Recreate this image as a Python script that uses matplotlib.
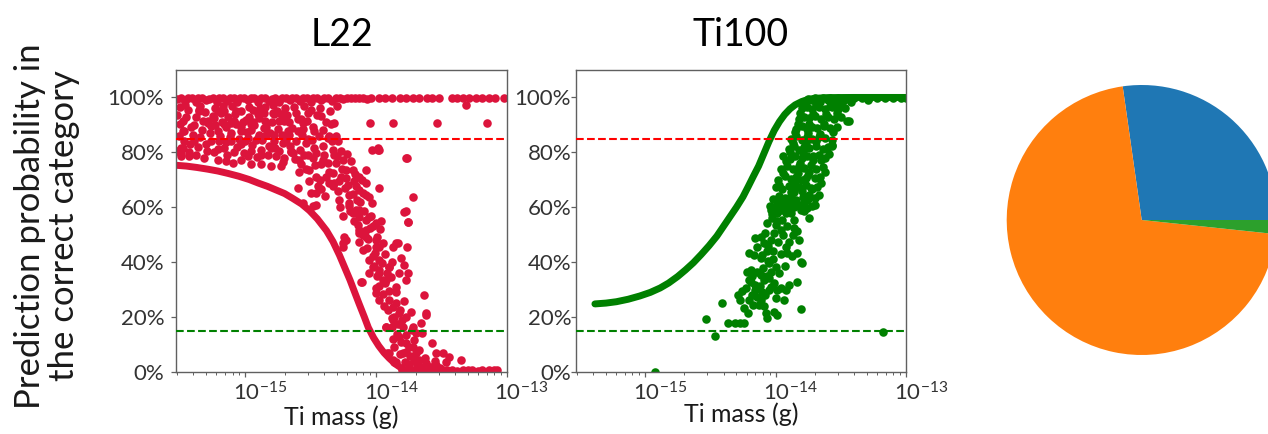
import numpy as np
import matplotlib
matplotlib.use("Agg")
import matplotlib.pyplot as plt
from matplotlib.ticker import PercentFormatter
from matplotlib.transforms import ScaledTranslation

plt.rcParams['font.family'] = ['Lato', 'DejaVu Sans']
plt.rcParams['mathtext.default'] = 'regular'
plt.rcParams['axes.unicode_minus'] = False

# ---------------- data (log10 of Ti mass in g, probability in %) ----------------
titles = ["L22", "Ti100"]
xlabel = "Ti mass (g)"
ylabel = "Prediction probability in\nthe correct category"
red_threshold = 85
green_threshold = 15
x_ticks = [1e-15, 1e-14, 1e-13]

# L22: dense trend band
l22_curve = [(-15.53, 75.3), (-15.45, 75.0), (-15.37, 74.5), (-15.29, 73.9), (-15.21, 73.2),
             (-15.13, 72.3), (-15.05, 71.3), (-14.97, 70.1), (-14.90, 68.8), (-14.83, 67.6),
             (-14.77, 66.4), (-14.70, 65.0), (-14.64, 63.3), (-14.57, 61.2), (-14.51, 58.8),
             (-14.45, 55.8), (-14.38, 51.5), (-14.33, 47.5), (-14.28, 42.5), (-14.24, 38.0),
             (-14.20, 33.5), (-14.16, 28.5), (-14.13, 24.8), (-14.09, 20.0), (-14.06, 16.2),
             (-14.02, 12.5), (-13.98, 9.5), (-13.94, 7.0), (-13.90, 5.0), (-13.85, 2.8),
             (-13.80, 1.2), (-13.76, 0.5)]

# L22: points near 100 %
l22_top = [(-15.52, 99.6), (-15.49, 99.9), (-15.46, 98.8), (-15.44, 99.7), (-15.41, 99.9), (-15.38, 98.5),
           (-15.36, 99.8), (-15.33, 99.9), (-15.30, 98.9), (-15.28, 99.6), (-15.25, 99.9), (-15.22, 98.2),
           (-15.20, 99.8), (-15.17, 99.9), (-15.14, 98.7), (-15.12, 99.7), (-15.09, 99.9), (-15.06, 98.4),
           (-15.04, 99.8), (-15.01, 99.9), (-14.98, 98.9), (-14.96, 99.7), (-14.93, 99.9), (-14.90, 98.3),
           (-14.88, 99.8), (-14.85, 99.9), (-14.82, 98.8), (-14.80, 99.6), (-14.77, 99.9), (-14.74, 98.5),
           (-14.72, 99.8), (-14.69, 99.9), (-14.66, 98.9), (-14.64, 99.7), (-14.61, 99.9), (-14.58, 98.6),
           (-14.56, 99.8), (-14.53, 99.9), (-14.50, 98.4), (-14.48, 99.7), (-14.45, 99.9), (-14.42, 99.0),
           (-14.40, 99.8), (-14.37, 99.9), (-14.34, 98.7), (-14.31, 99.8), (-14.28, 99.9), (-14.25, 99.5),
           (-14.22, 99.9), (-14.19, 99.7), (-14.16, 99.9), (-14.13, 99.8), (-14.10, 99.9), (-14.07, 99.6),
           (-14.04, 99.9), (-13.98, 99.9), (-13.93, 99.9), (-13.88, 99.9), (-13.82, 99.9), (-13.77, 99.9),
           (-13.72, 99.9), (-13.67, 99.9), (-13.61, 99.9), (-13.57, 99.9), (-13.52, 99.9), (-13.42, 99.9),
           (-13.38, 99.9), (-13.34, 99.9), (-13.29, 99.9), (-13.24, 99.9), (-13.19, 99.9), (-13.14, 99.9),
           (-13.09, 99.9), (-13.02, 99.9), (-13.31, 97.3),
           (-15.50, 96.5), (-15.35, 96.8), (-15.23, 96.2), (-15.10, 96.9), (-14.97, 96.4), (-14.85, 96.7),
           (-14.70, 96.3), (-14.55, 96.8), (-14.43, 96.1), (-14.30, 96.9)]

# L22: scattered cloud
l22_cloud = [(-15.478, 87.6), (-15.414, 89.4), (-15.491, 81.5), (-15.351, 95.5), (-15.287, 91.3),
             (-15.236, 92.5), (-15.185, 94.3), (-15.147, 89.4), (-15.109, 90.7), (-15.071, 94.9),
             (-15.032, 89.4), (-14.994, 91.9), (-14.943, 95.5), (-14.893, 92.5), (-14.842, 89.4),
             (-14.791, 94.3), (-14.740, 91.3), (-14.676, 87.6), (-14.613, 94.3), (-14.562, 90.7),
             (-14.485, 89.4), (-14.409, 88.2), (-14.358, 85.8), (-14.893, 86.4), (-14.816, 82.2),
             (-14.765, 78.5), (-14.714, 83.4), (-14.638, 79.7), (-14.587, 77.3), (-14.536, 83.4),
             (-14.511, 73.6), (-14.460, 79.7), (-14.409, 77.3), (-14.333, 80.9), (-14.307, 76.1),
             (-14.256, 77.3), (-14.231, 73.6), (-14.269, 71.2), (-14.180, 73.6), (-14.129, 71.2),
             (-14.078, 73.6), (-13.989, 81.5), (-13.976, 80.9), (-13.768, 77.9), (-14.154, 67.6),
             (-14.104, 65.1), (-14.384, 71.2), (-14.333, 67.6), (-14.460, 65.1), (-14.485, 60.3),
             (-14.562, 61.5), (-14.282, 62.7), (-14.205, 61.5), (-14.129, 59.1), (-14.053, 56.6),
             (-13.722, 63.9), (-13.760, 54.8), (-13.773, 58.5), (-14.180, 57.8), (-14.078, 51.8),
             (-14.027, 53.0), (-14.129, 50.6), (-14.002, 48.1), (-13.951, 46.9), (-14.104, 44.5),
             (-14.027, 42.1), (-13.976, 40.8), (-14.053, 40.8), (-14.256, 46.9), (-14.231, 48.1),
             (-13.875, 45.7), (-13.836, 46.9), (-14.053, 36.0), (-13.976, 37.2), (-13.900, 38.4),
             (-13.824, 36.0), (-13.785, 39.0), (-13.760, 36.0), (-13.849, 31.1), (-13.773, 33.5),
             (-14.116, 32.9), (-13.925, 33.5), (-14.002, 28.7), (-13.976, 26.2), (-13.900, 26.2),
             (-13.875, 23.8), (-13.824, 21.4), (-13.773, 20.2), (-13.633, 28.1), (-13.620, 20.8),
             (-13.722, 16.5), (-13.697, 14.1), (-13.798, 16.5), (-13.875, 19.0), (-13.925, 16.5),
             (-13.900, 6.8), (-13.824, 12.9), (-13.773, 10.5), (-13.722, 9.2), (-13.646, 14.1),
             (-13.570, 10.5), (-13.493, 6.8), (-13.442, 5.6), (-13.798, 6.8), (-13.722, 5.6),
             (-13.671, 4.4), (-13.620, 3.2), (-13.570, 1.9), (-13.493, 0.7), (-13.417, 0.7),
             (-13.340, 0.7), (-13.264, 0.7), (-13.188, 0.7), (-13.099, 0.7), (-13.849, 3.8),
             (-13.747, 1.9), (-13.646, 1.9), (-13.544, 2.5), (-13.468, 3.8), (-13.353, 4.4),
             (-13.875, 4.4), (-14.109, 32.7), (-13.621, 21.4), (-13.926, 16.5), (-13.876, 16.5),
             (-13.723, 15.3), (-13.659, 17.7), (-13.811, 11.0), (-13.748, 9.2), (-13.773, 7.4),
             (-13.697, 6.8), (-13.544, 6.8), (-13.914, 6.8), (-13.863, 3.8), (-13.80, 0.8),
             (-13.75, 0.6), (-13.70, 0.9), (-13.65, 0.5), (-13.60, 0.8), (-13.55, 0.6), (-13.46, 0.8),
             (-13.38, 0.5), (-13.30, 0.8), (-13.22, 0.5), (-13.14, 0.6), (-13.08, 0.7),
             (-14.00, 30.5), (-13.95, 33.5), (-13.93, 32.3), (-13.85, 25.0), (-13.82, 22.6),
             (-13.86, 20.2), (-13.786, 58.4), (-13.756, 54.8), (-13.850, 46.9), (-13.761, 45.7),
             (-14.244, 49.3), (-14.257, 45.7), (-13.977, 67.0), (-14.053, 63.9), (-14.498, 65.1),
             (-14.448, 67.6), (-14.601, 67.0), (-14.460, 60.9), (-14.206, 60.3), (-14.155, 59.1),
             (-14.130, 56.6), (-14.079, 55.4), (-14.002, 54.2), (-14.130, 51.8), (-14.079, 49.3),
             (-13.990, 49.3), (-13.977, 45.7), (-14.028, 38.4), (-13.952, 39.6), (-13.901, 38.4),
             (-13.977, 36.0), (-13.876, 40.2), (-14.359, 68.8), (-14.282, 69.4), (-14.219, 68.2),
             (-14.168, 69.4), (-14.130, 66.4), (-14.079, 68.8), (-15.351, 95.0), (-15.288, 90.8),
             (-15.466, 87.7), (-15.479, 81.7), (-15.491, 78.6), (-15.427, 78.6), (-15.376, 79.2),
             (-15.313, 78.0), (-15.211, 77.4), (-15.147, 76.8), (-15.097, 76.2), (-15.033, 77.4),
             (-14.957, 75.6), (-14.880, 75.6), (-14.804, 75.0), (-14.727, 75.0), (-14.779, 93.8),
             (-14.702, 91.4), (-14.575, 92.0), (-14.524, 94.4), (-14.422, 93.2), (-14.346, 90.2),
             (-14.473, 87.7), (-14.601, 87.7), (-14.664, 86.5), (-14.779, 86.5), (-14.855, 89.0),
             (-14.906, 85.3), (-14.982, 85.3), (-15.033, 82.9), (-15.109, 84.1), (-15.160, 81.7),
             (-15.211, 87.7), (-15.262, 84.1), (-15.389, 84.1), (-15.084, 91.4), (-14.957, 90.2),
             (-14.906, 93.8), (-15.160, 90.2), (-15.033, 87.7), (-15.211, 95.0), (-14.804, 81.7),
             (-14.651, 80.5), (-14.473, 81.7), (-14.372, 85.3), (-14.295, 84.1), (-14.321, 79.2),
             (-14.524, 79.2), (-14.422, 75.6), (-14.575, 75.6), (-14.702, 78.0), (-14.880, 79.2),
             (-14.957, 80.5), (-14.321, 90.8), (-14.048, 90.8), (-13.870, 90.8), (-13.537, 90.8),
             (-13.150, 90.8), (-13.769, 78.0), (-14.031, 81.0), (-13.985, 81.0),
             (-15.52, 93.5), (-15.50, 90.2), (-15.47, 84.0), (-15.45, 92.8), (-15.43, 80.3),
             (-15.40, 86.5), (-15.38, 93.0), (-15.36, 82.0), (-15.33, 88.0), (-15.31, 94.8),
             (-15.29, 80.5), (-15.27, 86.9), (-15.25, 93.2), (-15.23, 90.0), (-15.21, 81.2),
             (-15.19, 86.0), (-15.17, 97.0), (-15.15, 83.6), (-15.13, 93.0), (-15.11, 87.2),
             (-15.09, 80.2), (-15.07, 90.5), (-15.05, 85.0), (-15.03, 95.2), (-15.01, 79.8),
             (-14.99, 87.5), (-14.97, 93.0), (-14.95, 82.6), (-14.93, 89.8), (-14.91, 78.3),
             (-14.89, 96.0), (-14.87, 84.5), (-14.85, 91.5), (-14.83, 79.0), (-14.81, 87.0),
             (-14.79, 97.1), (-14.77, 81.7), (-14.75, 88.5), (-14.73, 94.0), (-14.71, 76.5),
             (-14.69, 84.6), (-14.67, 91.2), (-14.65, 80.0), (-14.63, 96.5), (-14.61, 84.0),
             (-14.59, 73.0), (-14.57, 86.3), (-14.55, 79.0), (-14.53, 91.5), (-14.51, 69.5),
             (-14.49, 84.5), (-14.47, 75.5), (-14.45, 93.5), (-14.43, 70.0), (-14.41, 82.5),
             (-14.39, 64.0), (-14.37, 76.0), (-14.35, 95.0), (-14.33, 72.5), (-14.31, 86.0),
             (-14.29, 66.0), (-14.27, 80.5), (-14.25, 57.0), (-14.23, 70.5), (-14.21, 64.5),
             (-14.19, 77.0), (-14.17, 55.0), (-14.15, 62.5), (-14.13, 47.5), (-14.11, 70.0),
             (-14.09, 58.5), (-14.07, 45.0), (-14.05, 52.5), (-14.03, 61.5), (-14.01, 43.5),
             (-13.99, 35.0), (-13.97, 52.0), (-13.95, 28.5), (-13.93, 43.0), (-13.91, 22.5),
             (-13.89, 34.5), (-13.87, 12.0), (-13.85, 29.0), (-13.83, 17.5), (-13.81, 41.5),
             (-13.79, 26.0), (-13.77, 13.5), (-13.75, 3.0), (-13.73, 22.0), (-13.71, 11.5),
             (-13.69, 2.5), (-13.67, 8.0), (-13.63, 5.0), (-13.59, 2.0), (-13.55, 4.0),
             (-13.51, 1.5), (-15.52, 80.5), (-15.49, 79.5), (-15.46, 97.2),
             (-15.51, 86.0), (-15.48, 91.5), (-15.44, 95.5), (-15.42, 83.0), (-15.39, 90.0),
             (-15.35, 85.5), (-15.32, 91.5), (-15.30, 83.0), (-15.26, 89.5), (-15.24, 80.0),
             (-15.20, 84.0), (-15.18, 91.0), (-15.16, 95.0), (-15.14, 79.0), (-15.12, 85.5),
             (-15.08, 94.0), (-15.06, 82.0), (-15.02, 91.0), (-15.00, 84.0), (-14.98, 78.5),
             (-14.96, 88.0), (-14.94, 91.0), (-14.92, 84.5), (-14.88, 81.0), (-14.86, 94.5),
             (-14.84, 86.5), (-14.80, 91.0), (-14.78, 84.0), (-14.76, 95.0), (-14.74, 80.5),
             (-14.72, 86.5), (-14.68, 93.5), (-14.66, 82.5), (-14.64, 89.0), (-14.62, 77.5),
             (-14.60, 92.0), (-14.58, 81.0), (-14.56, 88.5), (-14.54, 74.0), (-14.52, 85.0),
             (-14.50, 95.5), (-14.48, 78.0), (-14.46, 71.0), (-14.44, 86.0), (-14.42, 66.5),
             (-14.40, 79.0), (-14.38, 91.0), (-14.36, 73.0), (-14.34, 84.0), (-14.32, 69.0),
             (-14.30, 78.5), (-14.28, 60.0), (-14.26, 74.0), (-14.24, 67.0), (-14.22, 79.5),
             (-14.20, 58.5), (-14.18, 65.0), (-14.16, 72.0), (-14.14, 53.5), (-14.12, 62.0),
             (-14.10, 50.0), (-14.08, 64.5), (-14.06, 48.5), (-14.04, 57.0), (-14.02, 38.5),
             (-14.00, 45.5), (-13.98, 31.5), (-13.96, 55.0), (-13.94, 24.0), (-13.92, 36.0),
             (-13.90, 29.5), (-13.88, 19.5), (-13.86, 9.0), (-13.84, 14.0), (-13.82, 6.5),
             (-13.80, 19.0), (-13.78, 3.5), (-13.74, 6.0), (-13.70, 4.0)]

# Ti100: dense trend band
ti_curve = [(-15.385, 24.8), (-15.30, 25.1), (-15.22, 25.6), (-15.13, 26.5), (-15.04, 27.7),
            (-14.96, 29.0), (-14.885, 30.6), (-14.82, 32.4), (-14.75, 34.8), (-14.69, 37.2),
            (-14.63, 39.8), (-14.57, 42.8), (-14.51, 46.0), (-14.45, 49.5), (-14.40, 53.0),
            (-14.35, 56.5), (-14.30, 60.0), (-14.25, 63.8), (-14.21, 67.5), (-14.17, 71.3),
            (-14.13, 75.0), (-14.09, 79.5), (-14.05, 84.0), (-14.01, 88.0), (-13.97, 91.2),
            (-13.93, 93.8), (-13.89, 95.8), (-13.85, 97.3), (-13.80, 98.5), (-13.75, 99.3),
            (-13.70, 99.7), (-13.60, 99.95), (-13.40, 100.0), (-12.99, 100.0)]

# Ti100: scattered cloud
ti_cloud = [(-14.923, 0.1), (-13.180, 14.7), (-14.467, 13.1), (-14.531, 19.3), (-14.410, 25.3),
            (-14.364, 18.0), (-14.308, 18.0), (-14.269, 18.0), (-14.244, 18.0), (-14.290, 28.1),
            (-14.269, 26.2), (-14.244, 23.2), (-14.213, 21.4), (-14.205, 26.2), (-14.192, 32.9),
            (-14.179, 28.1), (-14.218, 36.6), (-14.205, 33.5), (-14.179, 34.8), (-14.154, 31.7),
            (-14.141, 27.5), (-14.115, 26.2), (-14.103, 29.3), (-14.090, 33.5), (-14.051, 34.1),
            (-14.038, 31.1), (-14.013, 32.3), (-13.987, 29.9), (-13.962, 30.5), (-13.923, 29.9),
            (-13.897, 31.7), (-13.936, 26.2), (-14.064, 19.6), (-14.077, 21.4), (-14.013, 22.0),
            (-13.987, 20.8), (-13.833, 32.9), (-13.808, 22.8), (-14.128, 24.4), (-14.192, 37.2),
            (-14.141, 36.6), (-14.115, 35.4), (-14.064, 34.8), (-14.038, 36.6), (-14.205, 43.3),
            (-14.167, 42.7), (-14.115, 41.4), (-14.141, 45.7), (-14.090, 46.9), (-14.064, 43.9),
            (-14.051, 39.6), (-14.000, 38.4), (-14.154, 48.7), (-14.115, 49.3), (-14.038, 48.1),
            (-14.013, 50.6), (-13.962, 51.8), (-13.923, 45.7), (-13.910, 43.3), (-13.872, 42.1),
            (-13.833, 43.3), (-13.808, 40.2), (-13.795, 39.6), (-13.821, 48.1), (-13.833, 51.2),
            (-14.064, 54.2), (-14.026, 56.0), (-13.987, 57.8), (-13.962, 59.1), (-13.923, 60.3),
            (-13.897, 61.5), (-13.859, 62.1), (-14.038, 59.1), (-13.987, 61.5), (-13.885, 57.8),
            (-13.859, 55.4), (-13.808, 59.1), (-13.782, 61.5), (-13.756, 62.7), (-14.000, 53.6),
            (-13.949, 55.4), (-13.910, 53.0), (-13.859, 52.4), (-14.103, 42.7),
            (-14.04, 60.5), (-14.00, 59.2), (-13.95, 60.8), (-13.91, 59.5), (-13.86, 60.2),
            (-13.81, 61.0), (-13.76, 59.6), (-13.72, 60.4),
            (-14.02, 63.0), (-13.97, 64.2), (-13.93, 63.5), (-13.88, 64.0), (-13.84, 62.8),
            (-13.79, 63.9), (-13.74, 64.5), (-13.70, 63.2),
            (-14.00, 67.5), (-13.95, 66.5), (-13.90, 67.8), (-13.86, 66.9), (-13.82, 67.3),
            (-13.77, 68.0), (-13.72, 66.6), (-13.68, 67.4),
            (-13.98, 70.0), (-13.93, 71.5), (-13.88, 70.4), (-13.84, 71.2), (-13.80, 70.1),
            (-13.75, 71.8), (-13.70, 70.5), (-13.66, 71.0),
            (-13.96, 74.0), (-13.91, 75.0), (-13.87, 73.8), (-13.82, 74.9), (-13.78, 74.2),
            (-13.73, 75.3), (-13.69, 73.9), (-13.64, 74.6),
            (-13.94, 78.5), (-13.89, 77.6), (-13.85, 78.8), (-13.80, 77.9), (-13.76, 78.6),
            (-13.71, 77.4), (-13.67, 78.9), (-13.62, 77.8),
            (-13.90, 81.2), (-13.86, 82.3), (-13.82, 81.0), (-13.78, 82.0), (-13.74, 81.5),
            (-13.69, 82.4), (-13.64, 81.1), (-13.60, 82.0),
            (-13.88, 85.0), (-13.84, 85.8), (-13.80, 84.6), (-13.76, 85.5), (-13.72, 84.9),
            (-13.67, 85.7), (-13.62, 85.1), (-13.57, 84.4),
            (-13.84, 88.6), (-13.80, 89.5), (-13.76, 88.4), (-13.72, 89.2), (-13.68, 88.8),
            (-13.63, 89.6), (-13.58, 88.7), (-13.53, 89.3),
            (-13.82, 92.2), (-13.78, 93.0), (-13.74, 92.4), (-13.70, 93.1), (-13.65, 92.3),
            (-13.60, 92.9), (-13.55, 92.0), (-13.50, 92.8),
            (-13.80, 96.0), (-13.76, 96.6), (-13.72, 95.8), (-13.67, 96.4), (-13.62, 95.9),
            (-13.57, 96.5), (-13.52, 95.7), (-13.47, 96.2),
            (-13.76, 98.6), (-13.72, 99.0), (-13.66, 98.4), (-13.60, 98.9), (-13.54, 98.5),
            (-13.48, 98.8), (-13.42, 98.3),
            (-13.70, 99.8), (-13.64, 99.9), (-13.58, 99.7), (-13.52, 99.9), (-13.46, 99.6),
            (-13.40, 99.8), (-13.34, 99.9), (-13.28, 99.7), (-13.22, 99.9), (-13.16, 99.8),
            (-13.10, 99.9), (-13.04, 99.7), (-13.00, 99.9),
            (-13.436, 91.4), (-13.564, 82.3), (-13.449, 91.3), (-13.564, 82.8), (-13.654, 77.3),
            (-13.744, 63.3), (-13.731, 67.0), (-13.782, 58.5), (-13.295, 99.2),
            (-14.03, 57.5), (-13.99, 55.0), (-13.96, 62.5), (-13.92, 58.0), (-13.88, 65.5),
            (-13.85, 69.0), (-13.83, 72.5), (-13.81, 76.0), (-13.79, 80.0), (-13.77, 83.5),
            (-13.75, 87.0), (-13.74, 90.5), (-13.71, 94.0), (-13.69, 97.5), (-13.97, 68.0),
            (-13.94, 72.5), (-13.92, 77.0), (-13.89, 80.0), (-13.87, 83.5), (-13.85, 87.5),
            (-13.83, 90.5), (-13.81, 94.5), (-13.78, 97.0), (-13.75, 99.5), (-13.90, 62.0),
            (-13.86, 65.5), (-13.80, 66.0), (-13.77, 70.5), (-13.74, 73.0), (-13.71, 78.5),
            (-13.69, 84.0), (-13.66, 86.8), (-13.63, 90.5), (-13.61, 94.0), (-13.58, 97.0),
            (-13.55, 98.0), (-13.74, 56.0), (-13.70, 61.0), (-13.67, 64.5), (-13.65, 69.0),
            (-13.62, 73.0), (-13.59, 79.5), (-13.56, 87.5), (-13.53, 94.5), (-13.50, 97.0),
            (-14.08, 50.5), (-14.06, 46.0), (-14.02, 44.0), (-13.98, 47.5), (-13.94, 50.0),
            (-13.90, 47.5), (-13.87, 50.0), (-14.10, 38.0), (-14.06, 40.5), (-14.02, 41.0),
            (-13.96, 43.0), (-13.93, 38.5), (-14.16, 30.0), (-14.12, 31.5), (-14.08, 28.0),
            (-14.05, 30.0), (-14.00, 27.0), (-13.97, 36.0), (-14.23, 30.5), (-14.17, 24.5),
            (-14.26, 29.5), (-14.09, 24.0)]

# pie shares (%)
pie_values = [27.25, 71.08, 1.67]
pie_colors = ['#1f77b4', '#ff7f0e', '#2ca02c']

# ---------------- figure ----------------
W, H = 1268, 434
fig = plt.figure(figsize=(W / 100, H / 100), dpi=100)

def px_rect(x0, y0, x1, y1):
    return [x0 / W, 1 - y1 / H, (x1 - x0) / W, (y1 - y0) / H]

ax1 = fig.add_axes(px_rect(176, 70, 507, 372))
ax2 = fig.add_axes(px_rect(576, 70, 906, 372))
axp = fig.add_axes(px_rect(1006.7, 85, 1276.7, 355))

def to_xy(pairs):
    arr = np.array(pairs, dtype=float)
    return 10 ** arr[:, 0], arr[:, 1] / 100.0

tick_color = '#333333'
spine_color = '#606060'

def style(ax, ypad):
    ax.set_xscale('log')
    ax.set_xlim(10 ** -15.53, 1e-13)
    ax.set_ylim(0, 1.10)
    ax.set_yticks([0, 0.2, 0.4, 0.6, 0.8, 1.0])
    ax.yaxis.set_major_formatter(PercentFormatter(1.0, decimals=0))
    ax.set_xticks(x_ticks)
    for s in ax.spines.values():
        s.set_color(spine_color)
        s.set_linewidth(1.0)
    ax.tick_params(axis='both', which='major', labelsize=16, labelcolor=tick_color,
                   color=spine_color, length=3.5, width=0.9)
    ax.tick_params(axis='y', pad=ypad)
    ax.tick_params(axis='x', which='minor', color=spine_color, length=2, width=0.7)
    # base "10" centred under the tick, exponent hanging to the right
    off = ScaledTranslation(-12.5 / 100, 0, fig.dpi_scale_trans)
    for lab in ax.get_xticklabels():
        lab.set_horizontalalignment('left')
        lab.set_transform(lab.get_transform() + off)

red = '#DC143C'
green = '#008000'
msize = 38

# L22
x, y = to_xy(l22_top)
ax1.scatter(x, y, s=msize, color=red, linewidths=0, zorder=2)
x, y = to_xy(l22_cloud)
ax1.scatter(x, y, s=msize, color=red, linewidths=0, zorder=2)
x, y = to_xy(l22_curve)
ax1.plot(x, y, color=red, lw=5, solid_capstyle='round', solid_joinstyle='round', zorder=2)

# Ti100
x, y = to_xy(ti_cloud)
ax2.scatter(x, y, s=msize, color=green, linewidths=0, zorder=2)
x, y = to_xy(ti_curve)
ax2.plot(x, y, color=green, lw=5, solid_capstyle='round', solid_joinstyle='round', zorder=2)

for ax, title, ypad, lpad in [(ax1, titles[0], 5.0, 0.5), (ax2, titles[1], 0.0, -1.5)]:
    ax.axhline(red_threshold / 100, color='red', ls='--', lw=1.5, zorder=3)
    ax.axhline(green_threshold / 100, color='green', ls='--', lw=1.5, zorder=3)
    style(ax, ypad)
    ax.set_title(title, fontsize=27, pad=17)
    ax.set_xlabel(xlabel, fontsize=18, labelpad=lpad, color='#1a1a1a')

fig.text(47 / W, 1 - 226 / H, ylabel, rotation=90, ha='center', va='center',
         multialignment='center', fontsize=25, color='#1a1a1a', linespacing=1.05)

# pie (cut off by the right edge of the figure)
axp.pie(pie_values, colors=pie_colors, startangle=0, counterclock=True, radius=1.0)
axp.set_xlim(-1, 1)
axp.set_ylim(-1, 1)
axp.set_aspect('auto')
axp.axis('off')

fig.savefig('out.png', dpi=100)
